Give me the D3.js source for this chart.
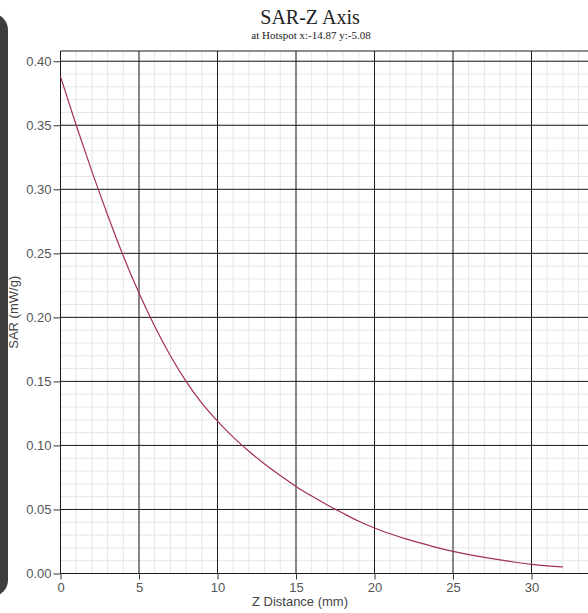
<!DOCTYPE html>
<html>
<head>
<meta charset="utf-8">
<script src="https://cdn.jsdelivr.net/npm/d3@7"></script>
<style>
  body { margin: 0; background: #fff; }
  .tick text { font-family: "Liberation Sans", Arial, sans-serif; font-size: 13px; fill: #555; }
</style>
</head>
<body>
<div id="chartDiv"></div>
<script>
// z distance (mm) and SAR (mW/g)
const zDistance = [0, 1, 2, 3, 4, 5, 6, 7, 8, 9, 10, 11, 12, 13, 14, 15, 16, 17, 18, 19, 20,
                   21, 22, 23, 24, 25, 26, 27, 28, 29, 30, 31, 32];
const sarValues = [0.388, 0.350, 0.314, 0.280, 0.248, 0.219, 0.193, 0.170, 0.150, 0.133, 0.119,
                   0.1065, 0.0955, 0.0855, 0.0765, 0.068, 0.0605, 0.0535, 0.047, 0.0408, 0.0355,
                   0.031, 0.027, 0.0235, 0.0202, 0.0173, 0.0148, 0.0126, 0.0106, 0.0088, 0.0072,
                   0.006, 0.0051];
const xTicks = [0, 5, 10, 15, 20, 25, 30, 35];
const xTickLabels = [0, 5, 10, 15, 20, 25, 30];
const yTicks = [0, 0.05, 0.10, 0.15, 0.20, 0.25, 0.30, 0.35, 0.40];

const width = 588, height = 613;
const margin = {top: 51, left: 60.5, bottom: 573.5, right: 610};

let svg = d3.select("#chartDiv").append("svg")
    .attr("width", width)
    .attr("height", height);

// dark rounded panel edge on the left
svg.append("rect")
    .attr("x", -22).attr("y", 14)
    .attr("width", 30).attr("height", 582)
    .attr("rx", 16)
    .style("fill", "#3d3d3d");

let x = d3.scaleLinear().domain([0, 35]).range([margin.left, margin.right]);
let y = d3.scaleLinear().domain([0, 0.408]).range([margin.bottom, margin.top]);

// minor grid
const minorX = d3.range(0, 36, 1);
const minorY = d3.range(0, 0.41, 0.01);
svg.append("g").selectAll("line").data(minorX).enter().append("line")
    .attr("x1", d => x(d)).attr("x2", d => x(d))
    .attr("y1", margin.top).attr("y2", margin.bottom)
    .style("stroke", "#e6e6e6").style("stroke-width", 1);
svg.append("g").selectAll("line").data(minorY).enter().append("line")
    .attr("x1", margin.left).attr("x2", margin.right)
    .attr("y1", d => y(d)).attr("y2", d => y(d))
    .style("stroke", "#e6e6e6").style("stroke-width", 1);

// major grid
svg.append("g").selectAll("line").data(xTicks).enter().append("line")
    .attr("x1", d => x(d)).attr("x2", d => x(d))
    .attr("y1", margin.top).attr("y2", margin.bottom)
    .style("stroke", "#1a1a1a").style("stroke-width", 1);
svg.append("g").selectAll("line").data(yTicks.concat([0.408])).enter().append("line")
    .attr("x1", margin.left).attr("x2", margin.right)
    .attr("y1", d => y(d)).attr("y2", d => y(d))
    .style("stroke", "#1a1a1a").style("stroke-width", 1);

// axes
let xAxis = d3.axisBottom(x).tickValues(xTickLabels).tickSize(6).tickPadding(3).tickFormat(d3.format("d"));
let yAxis = d3.axisLeft(y).tickValues(yTicks).tickSize(7).tickPadding(2).tickFormat(d3.format(".2f"));

svg.append("g")
    .attr("transform", `translate(0, ${margin.bottom})`)
    .call(xAxis)
    .call(g => g.select(".domain").remove())
    .selectAll(".tick line").style("stroke", "#333");

svg.append("g")
    .attr("transform", `translate(${margin.left}, 0)`)
    .call(yAxis)
    .call(g => g.select(".domain").remove())
    .selectAll(".tick line").style("stroke", "#333");

// curve
let line = d3.line()
    .x((d, i) => x(zDistance[i]))
    .y(d => y(d))
    .curve(d3.curveMonotoneX);

svg.append("path")
    .datum(sarValues)
    .attr("d", line)
    .style("fill", "none")
    .style("stroke", "#a3324f")
    .style("stroke-width", 1.2);

// titles
svg.append("text")
    .attr("x", 310).attr("y", 24)
    .style("text-anchor", "middle")
    .style("font-family", "'Liberation Serif', 'Times New Roman', serif")
    .style("font-size", "20px")
    .style("fill", "#222")
    .text("SAR-Z Axis");

svg.append("text")
    .attr("x", 311).attr("y", 39)
    .style("text-anchor", "middle")
    .style("font-family", "'Liberation Serif', 'Times New Roman', serif")
    .style("font-size", "11px")
    .style("fill", "#222")
    .text("at Hotspot x:-14.87 y:-5.08");

svg.append("text")
    .attr("x", 300).attr("y", 606)
    .style("text-anchor", "middle")
    .style("font-family", "'Liberation Sans', Arial, sans-serif")
    .style("font-size", "13px")
    .style("fill", "#444")
    .text("Z Distance (mm)");

svg.append("text")
    .attr("transform", `translate(18, ${(margin.top + margin.bottom) / 2}) rotate(-90)`)
    .style("text-anchor", "middle")
    .style("font-family", "'Liberation Sans', Arial, sans-serif")
    .style("font-size", "13px")
    .style("fill", "#444")
    .text("SAR (mW/g)");
</script>
</body>
</html>
